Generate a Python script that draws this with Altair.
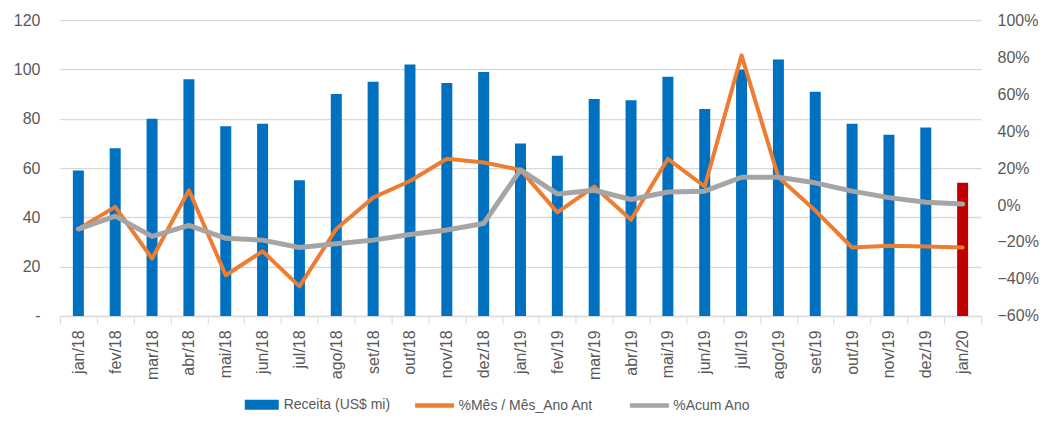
import altair as alt
import pandas as pd

meses = ["jan/18","fev/18","mar/18","abr/18","mai/18","jun/18","jul/18","ago/18","set/18","out/18","nov/18","dez/18",
         "jan/19","fev/19","mar/19","abr/19","mai/19","jun/19","jul/19","ago/19","set/19","out/19","nov/19","dez/19","jan/20"]
receita = [59, 68, 80, 96, 77, 78, 55, 90, 95, 102, 94.5, 99,
           70, 65, 88, 87.5, 97, 84, 100, 104, 91, 78, 73.5, 76.5, 54]
mes_ano_ant = [-13, -1, -29, 8, -38, -25, -44, -13, 4, 13, 25, 23,
               19, -4, 10, -8, 25, 10, 81, 15, -3, -23, -22, -22.5, -23]
acum_ano = [-13, -6, -17, -11, -18, -19, -23, -21, -19, -16, -13.5, -10,
            19, 6, 8, 3, 7, 7.5, 15, 15, 12, 7.5, 4, 1.5, 0.5]

S_REC = "Receita (US$ mi)"
S_MES = "%Mês / Mês_Ano Ant"
S_ACU = "%Acum Ano"
S_DEST = "destaque"

bars = pd.DataFrame({
    "mes": meses,
    "valor": receita,
    "serie": [S_DEST if m == "jan/20" else S_REC for m in meses],
})
lines = pd.DataFrame({
    "mes": meses * 2,
    "pct": [v / 100 for v in mes_ano_ant] + [v / 100 for v in acum_ano],
    "serie": [S_MES] * len(meses) + [S_ACU] * len(meses),
})

FONT = "Liberation Sans"
TXT = "#595959"

fill = alt.Fill(
    "serie:N",
    scale=alt.Scale(domain=[S_REC, S_DEST], range=["#0070C0", "#C00000"]),
    legend=alt.Legend(
        title=None, orient="none", direction="horizontal",
        legendX=183, legendY=378,
        values=[S_REC],
        symbolType="M-1,-1H5.8V1H-1Z",
        symbolSize=100, symbolStrokeWidth=0,
        labelFont=FONT, labelFontSize=14, labelColor=TXT, labelOffset=27,
    ),
)

stroke = alt.Stroke(
    "serie:N",
    scale=alt.Scale(domain=[S_MES, S_ACU], range=["#ED7D31", "#A5A5A5"]),
    legend=alt.Legend(
        title=None, orient="none", direction="horizontal",
        legendX=353, legendY=378,
        symbolType="M-1,0H6.8",
        symbolSize=100, symbolStrokeWidth=4.5,
        labelFont=FONT, labelFontSize=14, labelColor=TXT,
        columnPadding=27, labelOffset=31,
    ),
)

xenc = alt.X(
    "mes:N", sort=meses, title=None,
    scale=alt.Scale(paddingInner=0, paddingOuter=0),
    axis=alt.Axis(labelAngle=-90, labelFont=FONT, labelFontSize=16, labelColor=TXT,
                  tickBand="extent", tickColor="#D9D9D9", tickSize=8,
                  domainColor="#D9D9D9", domainWidth=1.5, labelPadding=6, grid=False),
)

bar = alt.Chart(bars).mark_bar(size=11).encode(
    x=xenc,
    y=alt.Y("valor:Q", title=None,
            scale=alt.Scale(domain=[0, 120], nice=False),
            axis=alt.Axis(values=[0, 20, 40, 60, 80, 100, 120],
                          labelExpr="datum.value == 0 ? '-' : datum.label",
                          labelFont=FONT, labelFontSize=16, labelColor=TXT,
                          ticks=False, domain=False, labelPadding=20,
                          grid=True, gridColor="#D9D9D9", gridWidth=1.3)),
    fill=fill,
)

ypct = alt.Y("pct:Q", title=None,
             scale=alt.Scale(domain=[-0.6, 1.0], nice=False),
             axis=alt.Axis(values=[-0.6, -0.4, -0.2, 0, 0.2, 0.4, 0.6, 0.8, 1.0],
                           format=".0%", orient="right",
                           labelFont=FONT, labelFontSize=16, labelColor=TXT,
                           ticks=False, domain=False, labelPadding=16, grid=False))

line_mes = alt.Chart(lines).transform_filter(alt.datum.serie == S_MES).mark_line(
    strokeCap="round", strokeJoin="round", strokeWidth=4).encode(
    x=xenc, y=ypct, stroke=stroke)

line_acu = alt.Chart(lines).transform_filter(alt.datum.serie == S_ACU).mark_line(
    strokeCap="round", strokeJoin="round", strokeWidth=5).encode(
    x=xenc, y=ypct, stroke=stroke)

lines_layer = alt.layer(line_mes, line_acu)

chart = alt.layer(bar, lines_layer).resolve_scale(y="independent").properties(
    width=922, height=296,
    padding={"left": 5, "top": 4, "right": 0, "bottom": 0},
).configure_view(stroke=None)

chart.save("out.html", embed_options={"renderer": "svg", "actions": False})
